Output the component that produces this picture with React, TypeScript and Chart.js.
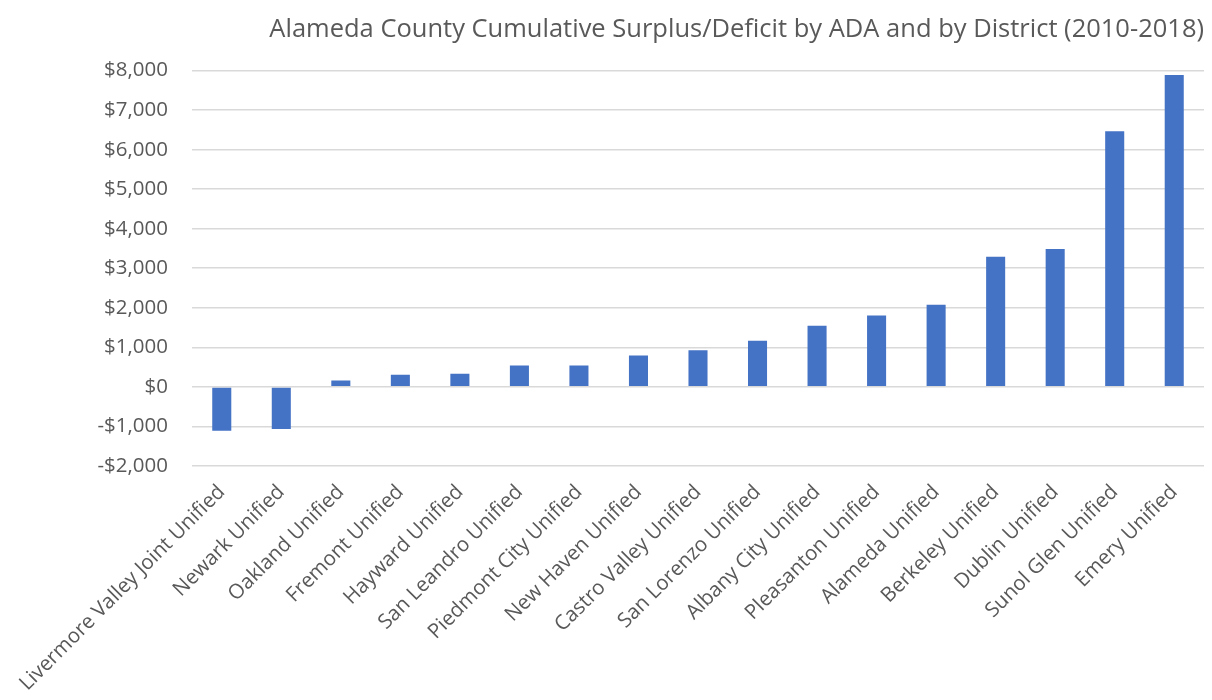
import React, { useEffect, useRef } from "react";
import { Chart, registerables } from "chart.js";

Chart.register(...registerables);

const districts = [
  "Livermore Valley Joint Unified",
  "Newark Unified",
  "Oakland Unified",
  "Fremont Unified",
  "Hayward Unified",
  "San Leandro Unified",
  "Piedmont City Unified",
  "New Haven Unified",
  "Castro Valley Unified",
  "San Lorenzo Unified",
  "Albany City Unified",
  "Pleasanton Unified",
  "Alameda Unified",
  "Berkeley Unified",
  "Dublin Unified",
  "Sunol Glen Unified",
  "Emery Unified",
];

const surplusPerAda = [
  -1110, -1065, 160, 310, 335, 540, 540, 795, 930, 1165, 1545, 1805, 2075,
  3290, 3485, 6465, 7890,
];

const yMin = -2000;
const yMax = 8000;
const yStep = 1000;

const titleText =
  "Alameda County Cumulative Surplus/Deficit by ADA and by District (2010-2018)";

const fmt = (v: number) =>
  (v < 0 ? "-$" : "$") + Math.abs(v).toLocaleString("en-US");

export default function App() {
  const ref = useRef<HTMLCanvasElement | null>(null);
  useEffect(() => {
    if (!ref.current) return;
    const font = "'Open Sans', sans-serif";
    const chart = new Chart(ref.current, {
      type: "bar",
      data: {
        labels: districts,
        datasets: [
          {
            data: surplusPerAda,
            backgroundColor: "#4472C4",
            borderWidth: 0,
            categoryPercentage: 1,
            barPercentage: 0.32,
          },
        ],
      },
      options: {
        animation: false,
        responsive: true,
        maintainAspectRatio: false,
        layout: { padding: { left: 0, right: 8, top: 0, bottom: 0 } },
        plugins: {
          legend: { display: false },
          tooltip: { enabled: false },
          title: {
            display: true,
            text: titleText,
            align: "end",
            color: "#595959",
            font: { family: font, size: 25.5, weight: "normal", lineHeight: 1.2 },
            padding: { top: 14, bottom: 26 },
          },
        },
        scales: {
          x: {
            grid: { display: false, drawTicks: false },
            border: { display: false },
            ticks: {
              autoSkip: false,
              maxRotation: 45,
              minRotation: 45,
              color: "#595959",
              font: { family: font, size: 20.5 },
              padding: 14,
            },
            afterFit: (s: any) => {
              s.height = 234;
            },
          },
          y: {
            min: yMin,
            max: yMax,
            grid: { color: "#d9d9d9", lineWidth: 1.6, drawTicks: false },
            border: { display: false },
            ticks: {
              stepSize: yStep,
              color: "#595959",
              font: { family: font, size: 20.5 },
              padding: 24,
              callback: (v: any) => fmt(Number(v)),
            },
            afterFit: (s: any) => {
              s.width = 192;
            },
          },
        },
      },
    });
    return () => chart.destroy();
  }, []);
  return (
    <div
      style={{
        position: "absolute",
        left: 0,
        top: 0,
        width: 1212,
        height: 700,
        background: "#fff",
      }}
    >
      <canvas ref={ref} />
    </div>
  );
}
